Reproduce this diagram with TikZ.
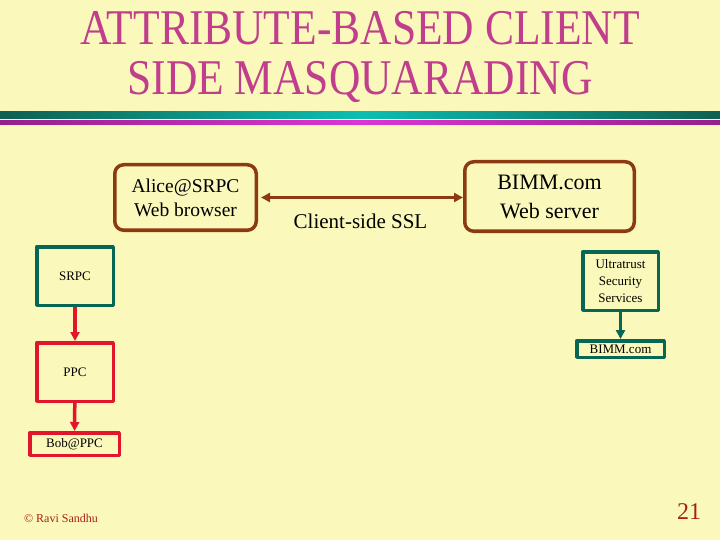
\documentclass[tikz,border=0pt]{standalone}
\usepackage{fontspec}
\setmainfont{Liberation Serif}
\newfontfamily\titlefont[FakeStretch=0.87]{Liberation Serif}
\usetikzlibrary{arrows.meta}
\definecolor{bg}{RGB}{250,248,187}
\definecolor{titlepink}{RGB}{192,62,140}
\definecolor{boxbrown}{RGB}{140,58,18}
\definecolor{boxteal}{RGB}{8,102,84}
\definecolor{boxred}{RGB}{226,22,42}
\definecolor{footred}{RGB}{170,32,22}
\definecolor{bandteal}{RGB}{14,96,82}
\definecolor{bandtealc}{RGB}{12,190,178}
\definecolor{bandpink}{RGB}{150,30,140}
\definecolor{bandpinkc}{RGB}{222,52,210}
\begin{document}
\begin{tikzpicture}[x=1pt,y=-1pt,line join=round,>={Triangle[length=9pt,width=9pt]},
    brownbox/.style={draw=boxbrown,line width=3.5pt,rounded corners=9pt,align=center,inner sep=0pt},
    tealbox/.style={draw=boxteal,line width=3.5pt,align=center,inner sep=0pt},
    redbox/.style={draw=boxred,line width=3.5pt,align=center,inner sep=0pt},
    small/.style={font=\fontsize{13}{17}\selectfont}]
    \useasboundingbox (0,0) rectangle (720,540);
    \fill[bg] (0,0) rectangle (720,540);
    % title and bands
    \node[anchor=base,text=titlepink,font=\titlefont\fontsize{50}{50}\selectfont] (title1) at (360,45) {ATTRIBUTE-BASED CLIENT};
    \node[anchor=base,text=titlepink,font=\titlefont\fontsize{50}{50}\selectfont] (title2) at (360,95) {SIDE MASQUARADING};
    \shade[left color=bandteal,right color=bandteal,middle color=bandtealc] (0,112) rectangle (720,118.5);
    \shade[left color=bandpink,right color=bandpink,middle color=bandpinkc] (0,121) rectangle (720,125);
    % top row
    \node[brownbox,minimum width=141.5,minimum height=65.5,font=\fontsize{19.5}{24}\selectfont] (alice) at (185.5,197.5) {Alice@SRPC\\Web browser};
    \node[brownbox,minimum width=169.5,minimum height=69.5,font=\fontsize{22}{29}\selectfont] (bimm) at (549.5,196.5) {BIMM.com\\Web server};
    \draw[<->,boxbrown,line width=3pt,shorten <=3pt] (alice.east) -- (bimm.west |- alice.east) node[midway,below=12pt,text=black,font=\fontsize{21}{24}\selectfont] (ssl) {Client-side SSL};
    % left column
    \node[tealbox,small,minimum width=76.5,minimum height=58.5] (srpc) at (75,276) {SRPC};
    \node[redbox,small,minimum width=76.5,minimum height=58.5] (ppc) at (75,372) {PPC};
    \node[redbox,small,minimum width=89.5,minimum height=22.5] (bob) at (74.5,444) {Bob@PPC};
    \draw[->,boxred,line width=3.5pt] (srpc) -- (ppc);
    \draw[->,boxred,line width=3.5pt] (ppc) -- (bob);
    % right column
    \node[tealbox,small,minimum width=75.5,minimum height=58.5] (ultra) at (620.5,281) {Ultratrust\\Security\\Services};
    \node[tealbox,small,minimum width=87.5,minimum height=16.5] (bimmcom) at (620.5,349) {BIMM.com};
    \draw[->,boxteal,line width=3.5pt] (ultra) -- (bimmcom);
    % footer
    \node[text=footred,font=\fontsize{12}{14}\selectfont] (copy) at (61,518) {© Ravi Sandhu};
    \node[text=footred,font=\fontsize{24}{26}\selectfont] (page) at (689,512) {21};
\end{tikzpicture}
\end{document}
